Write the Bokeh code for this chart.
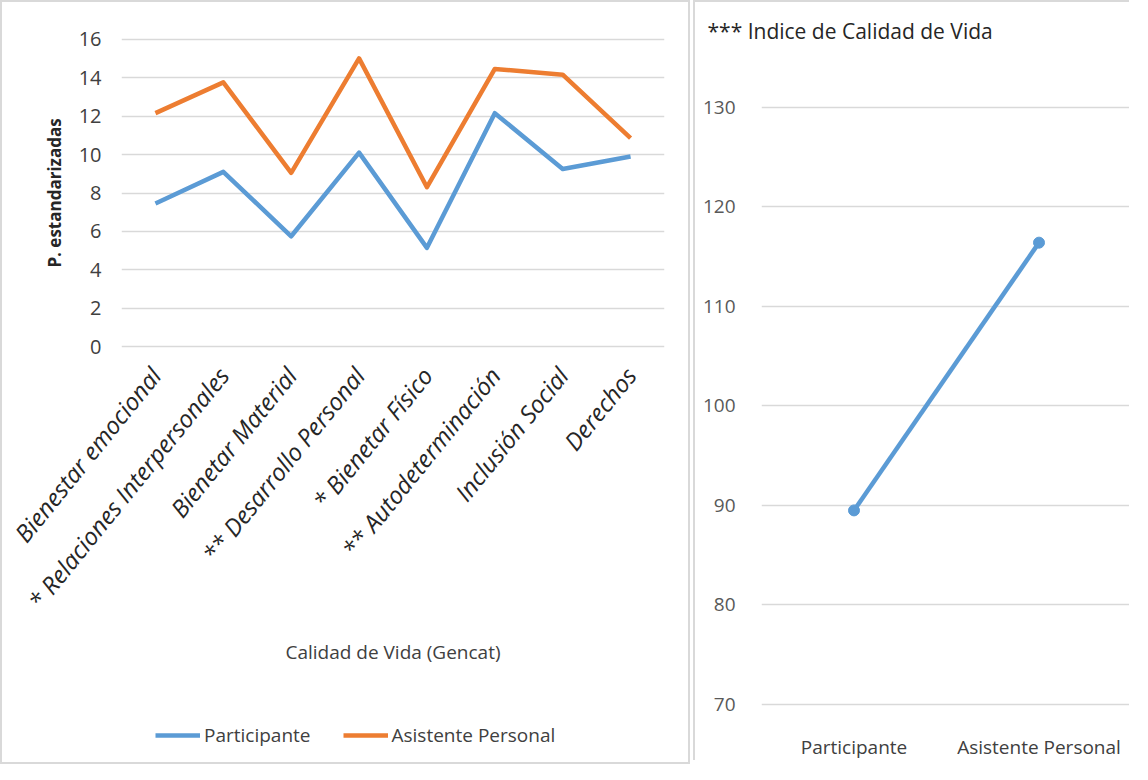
from bokeh.plotting import figure
from bokeh.models import Range1d, FactorRange, Legend, LegendItem, FixedTicker
from bokeh.layouts import row, column
from bokeh.embed import file_html
from bokeh.resources import INLINE

# ---- data ----
categories = ["Bienestar emocional", "* Relaciones Interpersonales", "Bienetar Material",
              "** Desarrollo Personal", "* Bienetar Físico", "** Autodeterminación",
              "Inclusión Social", "Derechos"]
participante = [7.45, 9.1, 5.75, 10.1, 5.15, 12.15, 9.25, 9.9]
asistente = [12.15, 13.75, 9.05, 15.0, 8.3, 14.45, 14.15, 10.85]
left_ticks = [0, 2, 4, 6, 8, 10, 12, 14, 16]

indice_groups = ["Participante", "Asistente Personal"]
indice_values = [89.5, 116.4]
right_ticks = [70, 80, 90, 100, 110, 120, 130]

BLUE = "#5B9BD5"
ORANGE = "#ED7D31"
GRID = "#d9d9d9"
BORDER = "2px solid #d9d9d9"
FONT = "Open Sans"

# ---- left chart ----
p = figure(frame_width=543, frame_height=327,
           x_range=FactorRange(*categories, range_padding=0),
           y_range=Range1d(-0.5, 16.5), output_backend="svg", toolbar_location=None,
           min_border_left=119, min_border_right=24, min_border_top=27, min_border_bottom=340)
p.frame_align = False
p.outline_line_color = None
p.xgrid.grid_line_color = None
p.ygrid.grid_line_color = GRID
p.ygrid.grid_line_width = 1.5
p.yaxis.ticker = FixedTicker(ticks=left_ticks)

for ax in (p.xaxis[0], p.yaxis[0]):
    ax.axis_line_color = None
    ax.major_tick_line_color = None
    ax.minor_tick_line_color = None
    ax.major_label_text_font = FONT
    ax.axis_label_text_font = FONT

p.yaxis.major_label_text_font_size = "20px"
p.yaxis.major_label_text_color = "#404040"
p.yaxis.major_label_standoff = 14
p.yaxis.axis_label = "P. estandarizadas"
p.yaxis.axis_label_text_font_style = "bold"
p.yaxis.axis_label_text_font_size = "17px"
p.yaxis.axis_label_text_color = "#262626"
p.yaxis.axis_label_standoff = 10

p.xaxis.major_label_orientation = 0.89
p.xaxis.major_label_text_font_style = "italic"
p.xaxis.major_label_text_font_size = "24px"
p.xaxis.major_label_text_color = "#262626"
p.xaxis.major_label_standoff = 8
p.xaxis.axis_label = "Calidad de Vida (Gencat)"
p.xaxis.axis_label_text_font_style = "normal"
p.xaxis.axis_label_text_font_size = "19px"
p.xaxis.axis_label_text_color = "#404040"
p.xaxis.axis_label_standoff = 10

p.line(categories, participante, line_color=BLUE, line_width=4.5, line_join="round")
p.line(categories, asistente, line_color=ORANGE, line_width=4.5, line_join="round")

# ---- legend strip under the left chart ----
# the same series are drawn here outside the visible range, only to key the legend
pl = figure(width=686, height=66, x_range=Range1d(0, 1), y_range=Range1d(0, 1),
            output_backend="svg", toolbar_location=None,
            x_axis_location=None, y_axis_location=None, min_border=0)
pl.frame_align = False
pl.outline_line_color = None
pl.grid.grid_line_color = None
idx = list(range(len(categories)))
lr1 = pl.line(idx, participante, line_color=BLUE, line_width=4.5)
lr2 = pl.line(idx, asistente, line_color=ORANGE, line_width=4.5)
legend = Legend(items=[LegendItem(label="Participante", renderers=[lr1]),
                       LegendItem(label="Asistente Personal", renderers=[lr2])],
                orientation="horizontal", location=(153, 14),
                border_line_color=None, background_fill_alpha=0,
                label_text_font=FONT, label_text_font_size="19px", label_text_color="#404040",
                glyph_width=45, glyph_height=20, label_standoff=4, spacing=32,
                padding=0, margin=0)
pl.add_layout(legend, "center")

left = column(p, pl, styles={"border": BORDER})

# ---- right chart ----
q = figure(width=436, height=760, x_range=FactorRange(*indice_groups, range_padding=0),
           y_range=Range1d(69.5, 135.2), output_backend="svg", toolbar_location=None,
           min_border_left=66, min_border_right=0, min_border_top=53, min_border_bottom=45)
q.frame_align = False
q.outline_line_color = None
q.xgrid.grid_line_color = None
q.ygrid.grid_line_color = GRID
q.ygrid.grid_line_width = 1.5
q.yaxis.ticker = FixedTicker(ticks=right_ticks)
for ax in (q.xaxis[0], q.yaxis[0]):
    ax.axis_line_color = None
    ax.major_tick_line_color = None
    ax.minor_tick_line_color = None
    ax.major_label_text_font = FONT
    ax.major_label_text_font_size = "19px"
q.yaxis.major_label_text_color = "#595959"
q.yaxis.major_label_standoff = 20
q.xaxis.major_label_text_color = "#404040"
q.xaxis.major_label_standoff = 18

q.line(indice_groups, indice_values, line_color=BLUE, line_width=4.5)
q.scatter(indice_groups, indice_values, size=11, fill_color=BLUE, line_color=BLUE)

q.title.text = "*** Indice de Calidad de Vida"
q.title.align = "left"
q.title.offset = -54
q.title.standoff = 22
q.title.text_font = FONT
q.title.text_font_size = "21px"
q.title.text_font_style = "normal"
q.title.text_color = "#262626"
q.styles = {"border-left": BORDER, "border-top": BORDER}

layout = row(left, q, spacing=3)
open("out.html", "w").write(file_html(layout, INLINE))
